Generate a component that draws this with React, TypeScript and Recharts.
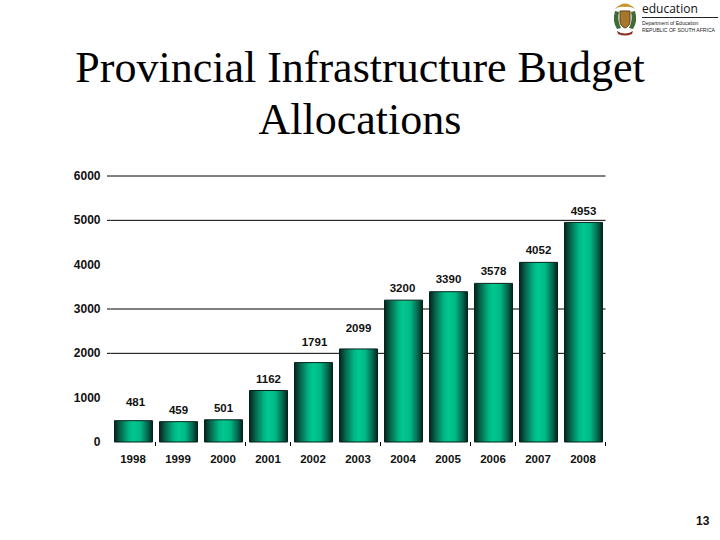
import React from 'react';
import { BarChart, Bar, XAxis, YAxis, CartesianGrid, LabelList } from 'recharts';

const years = ['1998', '1999', '2000', '2001', '2002', '2003', '2004', '2005', '2006', '2007', '2008'];
const budget = [481, 459, 501, 1162, 1791, 2099, 3200, 3390, 3578, 4052, 4953];
const yTicks = [0, 1000, 2000, 3000, 4000, 5000, 6000];
// the 4000 and 1000 rules are not visible in the picture
const gridValues = [2000, 3000, 5000, 6000];
// only some of the x axis tick marks show, drawn right of these years
const markedYears = ['1998', '2000', '2001', '2003', '2005', '2006', '2008'];

const labelLift: Record<string, number> = { '1998': 15, '1999': 8, '2000': 8, '2001': 7, '2002': 17, '2003': 17, '2004': 8, '2005': 9, '2006': 8, '2007': 8, '2008': 7 };
const labelShift: Record<string, number> = { '1998': 2, '2002': 1, '2004': -1 };

const data = years.map((year, i) => ({ year, budget: budget[i] }));

const labelFont = { fontFamily: 'Liberation Sans', fontWeight: 700, fill: '#111' };

const YTick = ({ x, y, payload }: any) => (
    <g>
        {gridValues.includes(payload.value) && <line x1={x - 3.5} x2={x} y1={y} y2={y} stroke="#000" />}
        <text x={x - 10} y={y + 4} textAnchor="end" fontSize={12} {...labelFont}>{payload.value}</text>
    </g>
);

const XTick = ({ x, y, payload }: any) => (
    <g>
        {markedYears.includes(payload.value) && <line x1={x + 22.5} x2={x + 22.5} y1={y} y2={y + 4} stroke="#000" />}
        <text x={x} y={y + 21} textAnchor="middle" fontSize={11.5} {...labelFont}>{payload.value}</text>
    </g>
);

const ValueLabel = ({ x, y, width, value, index }: any) => {
    const year = years[index];
    return (
        <text
            x={x + width / 2 + (labelShift[year] ?? 0)}
            y={y - (labelLift[year] ?? 8)}
            textAnchor="middle"
            fontSize={11.5}
            {...labelFont}
        >
            {value}
        </text>
    );
};

const Crest = () => (
    <svg width={26} height={36} viewBox="0 0 26 36" style={{ position: 'absolute', left: 612, top: 1 }}>
        <path d="M3 8 Q13 -3 23 8 Q18 5 13 6 Q8 5 3 8Z" fill="#c9962e" />
        <path d="M3 10 Q0 20 5 28 L9 27 Q5 19 7 11Z" fill="#3f6b35" />
        <path d="M23 10 Q26 20 21 28 L17 27 Q21 19 19 11Z" fill="#3f6b35" />
        <path d="M8 10 H18 V20 Q18 25 13 27 Q8 25 8 20Z" fill="#a8772b" stroke="#5c3d16" />
        <path d="M5 30 Q13 35 21 30 L20 33 Q13 36 6 33Z" fill="#8a2f22" />
    </svg>
);

export default function App() {
    return (
        <div style={{ position: 'absolute', left: 0, top: 0, width: 720, height: 540, background: '#fff', overflow: 'hidden' }}>
            <div style={{ position: 'absolute', left: 0, top: 42, width: 720, textAlign: 'center', fontFamily: 'Liberation Serif', fontSize: 44, lineHeight: '52px', color: '#000' }}>
                Provincial Infrastructure Budget<br />Allocations
            </div>

            <Crest />
            <div style={{ position: 'absolute', left: 642, top: 1, fontFamily: 'Open Sans', fontSize: 12, lineHeight: '16px', color: '#111' }}>education</div>
            <div style={{ position: 'absolute', left: 642, top: 17, width: 76, borderTop: '1px solid #222' }} />
            <div style={{ position: 'absolute', left: 642, top: 20, fontFamily: 'Liberation Sans', fontSize: 5.1, lineHeight: '6.5px', color: '#222', whiteSpace: 'nowrap' }}>
                Department of Education<br />REPUBLIC OF SOUTH AFRICA
            </div>

            <BarChart
                width={720}
                height={540}
                data={data}
                margin={{ top: 176, right: 114.5, bottom: 68, left: 10.5 }}
                style={{ position: 'absolute', left: 0, top: 0 }}
            >
                <defs>
                    <linearGradient id="barFill" x1="0" y1="0" x2="1" y2="0">
                        <stop offset="0%" stopColor="#04231b" />
                        <stop offset="15%" stopColor="#06634c" />
                        <stop offset="38%" stopColor="#00b884" />
                        <stop offset="50%" stopColor="#00c890" />
                        <stop offset="68%" stopColor="#00b884" />
                        <stop offset="88%" stopColor="#06634c" />
                        <stop offset="100%" stopColor="#04231b" />
                    </linearGradient>
                </defs>
                <CartesianGrid vertical={false} horizontalValues={gridValues} stroke="#000" strokeWidth={1} />
                <XAxis dataKey="year" interval={0} axisLine={false} tickLine={false} tickSize={0} tickMargin={0} height={30} tick={<XTick />} />
                <YAxis width={100} domain={[0, 6000]} ticks={yTicks} axisLine={false} tickLine={false} tickSize={0} tickMargin={0} tick={<YTick />} />
                <YAxis yAxisId="edge" orientation="right" width={0} domain={[0, 6000]} tick={false} tickLine={false} axisLine={{ stroke: '#000' }} />
                <Bar dataKey="budget" fill="url(#barFill)" stroke="#04231b" barSize={38} isAnimationActive={false}>
                    <LabelList dataKey="budget" content={<ValueLabel />} />
                </Bar>
            </BarChart>

            <div style={{ position: 'absolute', left: 696, top: 514, fontFamily: 'Liberation Sans', fontWeight: 700, fontSize: 12, lineHeight: '14px', color: '#111' }}>13</div>
        </div>
    );
}
